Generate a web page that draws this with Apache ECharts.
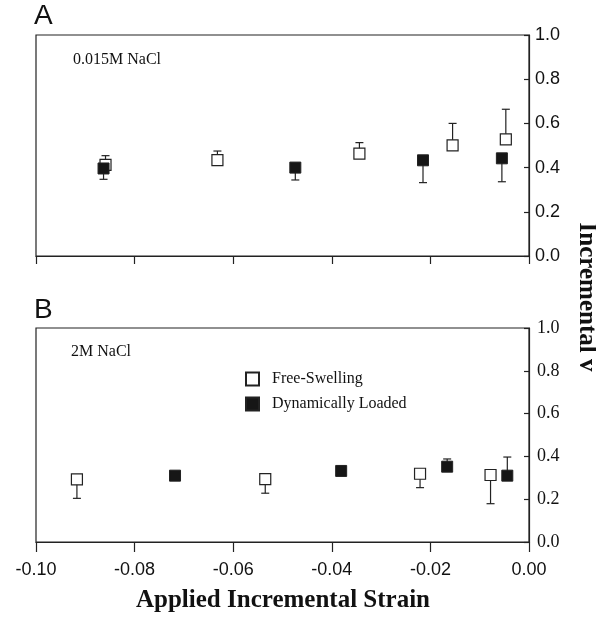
<!DOCTYPE html>
<html>
<head>
<meta charset="utf-8">
<script src="https://cdn.jsdelivr.net/npm/echarts@6/dist/echarts.min.js"></script>
<style>
  html, body { margin: 0; padding: 0; background: #fff; }
  #chart { width: 596px; height: 617px; }
</style>
</head>
<body>
<div id="chart"></div>
<script>
// Axis ticks
const xTicks = [-0.10, -0.08, -0.06, -0.04, -0.02, 0.00];
const yTicks = [0.0, 0.2, 0.4, 0.6, 0.8, 1.0];

// Panel A: 0.015M NaCl
const aFreeX = [-0.0859, -0.0632, -0.0344, -0.0155, -0.0047];
const aFreeY = [0.412, 0.434, 0.463, 0.501, 0.528];
const aFreeErrEnd = [0.454, 0.475, 0.513, 0.600, 0.664];   // upper bar end
const aLoadX = [-0.0863, -0.0474, -0.0215, -0.0055];
const aLoadY = [0.396, 0.400, 0.433, 0.442];
const aLoadErrEnd = [0.347, 0.344, 0.332, 0.336];          // lower bar end

// Panel B: 2M NaCl
const bFreeX = [-0.0917, -0.0535, -0.0221, -0.0078];
const bFreeY = [0.293, 0.294, 0.319, 0.313];
const bFreeErrEnd = [0.204, 0.228, 0.254, 0.179];          // lower bar end
const bLoadX = [-0.0718, -0.0381, -0.0166, -0.0044];
const bLoadY = [0.310, 0.332, 0.352, 0.310];
const bLoadErrEnd = [0.310, 0.355, 0.388, 0.397];          // upper bar end

const INK = '#222';
const FILL = '#161616';
const serif = '"Liberation Serif", "Times New Roman", serif';
const sans = '"Liberation Sans", Arial, sans-serif';

const pts = (xs, ys) => xs.map((x, i) => [x, ys[i]]);
const errs = (xs, ys, ends) => xs.map((x, i) => [x, ys[i], ends[i]]);

function errorBarSeries(idx, data) {
  return {
    type: 'custom',
    xAxisIndex: idx, yAxisIndex: idx,
    silent: true, z: 1,
    data: data,
    renderItem: function (params, api) {
      const c = api.coord([api.value(0), api.value(1)]);
      const e = api.coord([api.value(0), api.value(2)]);
      const half = 4;
      const style = { stroke: INK, lineWidth: 1.2 };
      return {
        type: 'group',
        children: [
          { type: 'line', shape: { x1: c[0], y1: c[1], x2: e[0], y2: e[1] }, style: style },
          { type: 'line', shape: { x1: e[0] - half, y1: e[1], x2: e[0] + half, y2: e[1] }, style: style }
        ]
      };
    }
  };
}

function pointSeries(idx, name, data, filled) {
  return {
    type: 'scatter', name: name,
    xAxisIndex: idx, yAxisIndex: idx,
    symbol: 'rect', symbolSize: 11, z: 3,
    itemStyle: filled
      ? { color: FILL, borderColor: INK, borderWidth: 1, opacity: 1 }
      : { color: '#fff', borderColor: INK, borderWidth: 1.2, opacity: 1 },
    emphasis: { disabled: true },
    data: data
  };
}

function xAxisFor(idx, showLabels, tickLen) {
  return {
    type: 'value', gridIndex: idx,
    min: xTicks[0], max: xTicks[xTicks.length - 1], interval: 0.02,
    axisLine: { show: true, onZero: false, lineStyle: { color: INK, width: 1.2 } },
    axisTick: { show: true, inside: false, length: tickLen, lineStyle: { color: INK, width: 1.2 } },
    axisLabel: {
      show: showLabels, margin: 19,
      fontFamily: sans, fontSize: 18, color: '#111',
      formatter: v => v.toFixed(2)
    },
    splitLine: { show: false }
  };
}

function yAxisFor(idx, family, margin) {
  return {
    type: 'value', gridIndex: idx, position: 'right',
    min: yTicks[0], max: yTicks[yTicks.length - 1], interval: 0.2,
    axisLine: { show: true, lineStyle: { color: INK, width: 1.2 } },
    axisTick: { show: true, inside: true, length: 5, lineStyle: { color: INK, width: 1.2 } },
    axisLabel: {
      margin: margin, fontFamily: family, fontSize: 18, color: '#111',
      formatter: v => v.toFixed(1)
    },
    splitLine: { show: false }
  };
}

const chart = echarts.init(document.getElementById('chart'), null, { renderer: 'canvas' });

chart.setOption({
  backgroundColor: '#fff',
  animation: false,
  grid: [
    { left: 36, top: 35, width: 493, height: 221, show: true, borderColor: INK, borderWidth: 1.2, backgroundColor: 'transparent' },
    { left: 36, top: 328, width: 493, height: 214, show: true, borderColor: INK, borderWidth: 1.2, backgroundColor: 'transparent' }
  ],
  xAxis: [ xAxisFor(0, false, 8), xAxisFor(1, true, 10) ],
  yAxis: [ yAxisFor(0, sans, 6), yAxisFor(1, serif, 8) ],
  legend: {
    data: ['Free-Swelling', 'Dynamically Loaded'],
    orient: 'vertical', left: 240, top: 366,
    itemWidth: 13, itemHeight: 13, itemGap: 9,
    icon: 'rect',
    textStyle: { fontFamily: serif, fontSize: 16, color: '#111', padding: [0, 0, 0, 8] },
    selectedMode: false
  },
  graphic: [
    { type: 'text', left: 34, top: 2, style: { text: 'A', font: '28px ' + sans, fill: '#111' } },
    { type: 'text', left: 34, top: 296, style: { text: 'B', font: '28px ' + sans, fill: '#111' } },
    { type: 'text', left: 73, top: 52, style: { text: '0.015M NaCl', font: '16px ' + serif, fill: '#111' } },
    { type: 'text', left: 71, top: 344, style: { text: '2M NaCl', font: '16px ' + serif, fill: '#111' } },
    { type: 'text', x: 283, y: 601, style: { text: 'Applied Incremental Strain', font: 'bold 25px ' + serif, fill: '#111', align: 'center', verticalAlign: 'middle' } },
    { type: 'text', x: 586, y: 297, rotation: -Math.PI / 2, style: { text: 'Incremental v', font: 'bold 25px ' + serif, fill: '#111', align: 'center', verticalAlign: 'middle' } }
  ],
  series: [
    errorBarSeries(0, errs(aFreeX, aFreeY, aFreeErrEnd)),
    errorBarSeries(0, errs(aLoadX, aLoadY, aLoadErrEnd)),
    pointSeries(0, 'Free-Swelling', pts(aFreeX, aFreeY), false),
    pointSeries(0, 'Dynamically Loaded', pts(aLoadX, aLoadY), true),
    errorBarSeries(1, errs(bFreeX, bFreeY, bFreeErrEnd)),
    errorBarSeries(1, errs(bLoadX, bLoadY, bLoadErrEnd)),
    pointSeries(1, 'Free-Swelling', pts(bFreeX, bFreeY), false),
    pointSeries(1, 'Dynamically Loaded', pts(bLoadX, bLoadY), true)
  ]
});
</script>
</body>
</html>
